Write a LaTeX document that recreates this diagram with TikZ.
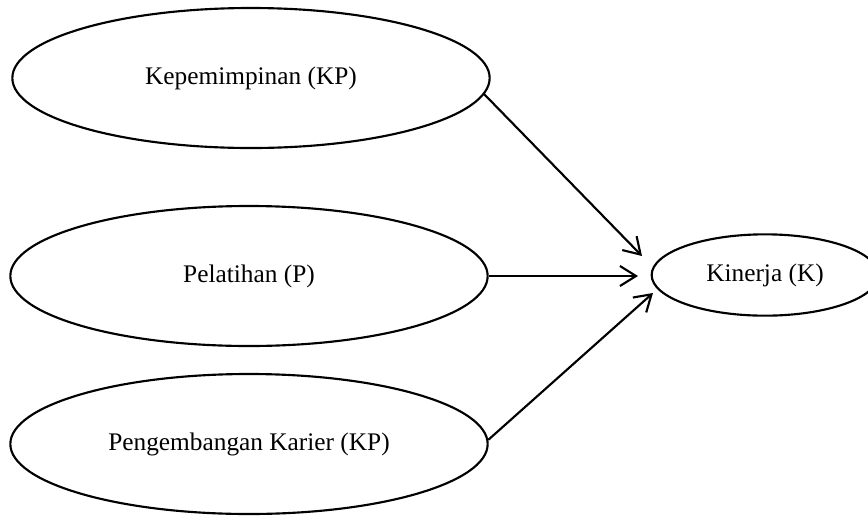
\documentclass[tikz,border=0pt]{standalone}
\usepackage{fontspec}
\setmainfont{Liberation Serif}
\usetikzlibrary{shapes.geometric, arrows.meta}

\begin{document}
\begin{tikzpicture}[x=0.75pt, y=-0.75pt, line width=1.6pt, font=\fontsize{19}{22}\selectfont,
  main/.style = {draw, ellipse, inner sep=0pt},
  big/.style = {main, minimum width=358pt, minimum height=105pt},
  link/.style = {-{Straight Barb[length=12pt, width=15pt, line width=1.6pt]}}]
\useasboundingbox (0,0) rectangle (868,515);

\node[big] (kp) at (251,78) {Kepemimpinan (KP)};
\node[big] (p) at (249,276) {Pelatihan (P)};
\node[big] (pk) at (249,444) {Pengembangan Karier (KP)};
\node[main, minimum width=170pt, minimum height=61pt] (k) at (765,275) {Kinerja (K)};

\coordinate (k1) at (642,256);
\coordinate (k2) at (638,276);
\coordinate (k3) at (653,293);

\draw[link] (kp.-4) -- (k1);
\draw[link] (p.east) -- (k2);
\draw[link] (pk.1) -- (k3);

\end{tikzpicture}
\end{document}
